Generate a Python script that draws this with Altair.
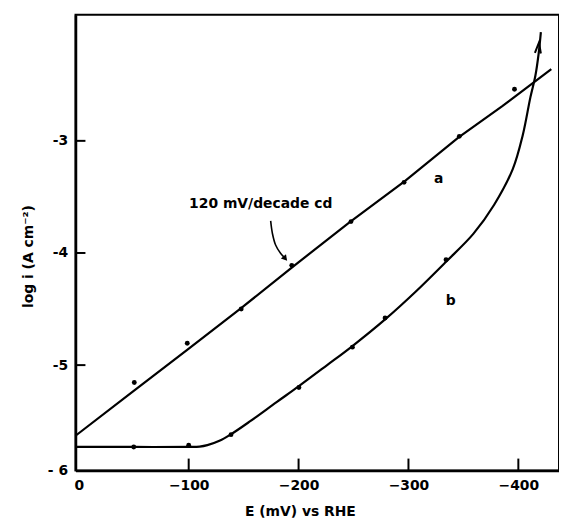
import altair as alt
import pandas as pd

# curve a (Tafel line)
a_x = [3, -48.5, -99.8, -148, -193.8, -246, -296.7, -345.6, -385.4, -430]
a_y = [-5.63, -5.24, -4.855, -4.49, -4.13, -3.73, -3.36, -2.97, -2.69, -2.36]
a_dots_x = [-50.5, -98.7, -147.8, -193.8, -247.7, -296, -346.3, -396.5]
a_dots_y = [-5.155, -4.805, -4.50, -4.11, -3.72, -3.37, -2.96, -2.54]

# curve b
b_x = [3, -50, -100, -110, -117, -128, -138, -156, -180, -200, -226, -249, -279,
       -306, -334, -359, -378, -395, -404, -411, -415.5, -418.5, -420.5]
b_y = [-5.73, -5.73, -5.73, -5.727, -5.714, -5.675, -5.62, -5.50, -5.33, -5.19, -5.0,
       -4.83, -4.59, -4.35, -4.08, -3.83, -3.57, -3.25, -2.95, -2.61, -2.42, -2.22, -2.03]
b_dots_x = [-50, -100, -138.5, -200.3, -249, -278.7, -334.2]
b_dots_y = [-5.73, -5.715, -5.62, -5.20, -4.84, -4.58, -4.06]

# arrowhead at end of curve b
b_head_x = [-418.3]
b_head_y = [-2.17]

# annotation arrow
ann_x = [-174.6, -176.2, -179.1, -183.6, -186.5]
ann_y = [-3.714, -3.826, -3.929, -4.003, -4.035]
ann_head_x = [-187.9]
ann_head_y = [-4.05]

labels_text = ["120 mV/decade cd", "a", "b"]
labels_x = [-165.6, -327.6, -338.4]
labels_y = [-3.566, -3.34, -4.43]

x_ticks = [0, -100, -200, -300, -400]
x_inner_ticks = [-100, -200, -300, -400]
y_ticks = [-5.94, -5, -4, -3]
y_inner_ticks = [-5, -4, -3]

FONT = "DejaVu Sans"

df_a = pd.DataFrame({"x": a_x, "y": a_y, "i": range(len(a_x))})
df_b = pd.DataFrame({"x": b_x, "y": b_y, "i": range(len(b_x))})
df_dots = pd.DataFrame({"x": a_dots_x + b_dots_x, "y": a_dots_y + b_dots_y})
df_bh = pd.DataFrame({"x": b_head_x, "y": b_head_y})
df_ann = pd.DataFrame({"x": ann_x, "y": ann_y, "i": range(len(ann_x))})
df_annh = pd.DataFrame({"x": ann_head_x, "y": ann_head_y})
df_lab = pd.DataFrame({"x": labels_x, "y": labels_y, "t": labels_text})
df_xt = pd.DataFrame({"x": x_inner_ticks})
df_yt = pd.DataFrame({"y": y_inner_ticks})

xs = alt.Scale(domain=[3, -437], nice=False, zero=False)
ys = alt.Scale(domain=[-5.94, -1.876], nice=False, zero=False)

x_axis = alt.Axis(values=x_ticks, tickSize=0, grid=False, domainWidth=2.5, domainColor="black",
                  labelFont=FONT, labelFontSize=14, labelFontWeight="bold", labelColor="black",
                  labelPadding=8, titleFont=FONT, titleFontSize=14, titleFontWeight="bold",
                  titleColor="black", titleX=226, titleY=34, titleBaseline="top")
y_axis = alt.Axis(values=y_ticks, tickSize=0, grid=False, domainWidth=2.5, domainColor="black",
                  labelExpr="datum.value < -5.5 ? '- 6' : '-' + format(abs(datum.value), 'd')",
                  labelFont=FONT, labelFontSize=14, labelFontWeight="bold", labelColor="black",
                  labelPadding=8, titleFont=FONT, titleFontSize=14, titleFontWeight="bold",
                  titleColor="black", titleX=-40, titleY=243)

X = alt.X("x:Q", scale=xs, axis=x_axis, title="E (mV) vs RHE")
Y = alt.Y("y:Q", scale=ys, axis=y_axis, title="log i (A cm⁻²)")

line_a = alt.Chart(df_a).mark_line(color="black", strokeWidth=2.2).encode(
    x=X, y=Y, order="i:Q")
line_b = alt.Chart(df_b).mark_line(color="black", strokeWidth=2.2, interpolate="catmull-rom").encode(
    x=X, y=Y, order="i:Q")
dots = alt.Chart(df_dots).mark_circle(color="black", size=24, opacity=1).encode(x=X, y=Y)
b_head = alt.Chart(df_bh).mark_point(shape="M-0.55,1L0,-1L0.55,1", filled=False, color="black",
                                      strokeWidth=2, size=120, angle=6, opacity=1).encode(x=X, y=Y)
ann = alt.Chart(df_ann).mark_line(color="black", strokeWidth=1.6, interpolate="catmull-rom").encode(
    x=X, y=Y, order="i:Q")
ann_head = alt.Chart(df_annh).mark_point(shape="triangle-down", filled=True, color="black",
                                          size=45, angle=320, opacity=1).encode(x=X, y=Y)
labels = alt.Chart(df_lab).mark_text(font=FONT, fontSize=14, fontWeight="bold", color="black",
                                      baseline="middle", align="center").encode(
    x=X, y=Y, text="t:N")
xt = alt.Chart(df_xt).mark_rule(color="black", strokeWidth=2).encode(
    x=X, y=alt.value(459), y2=alt.value(447))
yt = alt.Chart(df_yt).mark_rule(color="black", strokeWidth=2).encode(
    y=Y, x=alt.value(0), x2=alt.value(10))

chart = alt.layer(line_a, line_b, dots, b_head, ann, ann_head, labels, xt, yt).properties(
    width=487, height=459, autosize="none",
    padding={"left": 68, "top": 5, "right": 0, "bottom": 50},
    background="white",
).configure_view(stroke="black", strokeWidth=2)

chart.save("out.html", embed_options={"renderer": "svg", "actions": False})
